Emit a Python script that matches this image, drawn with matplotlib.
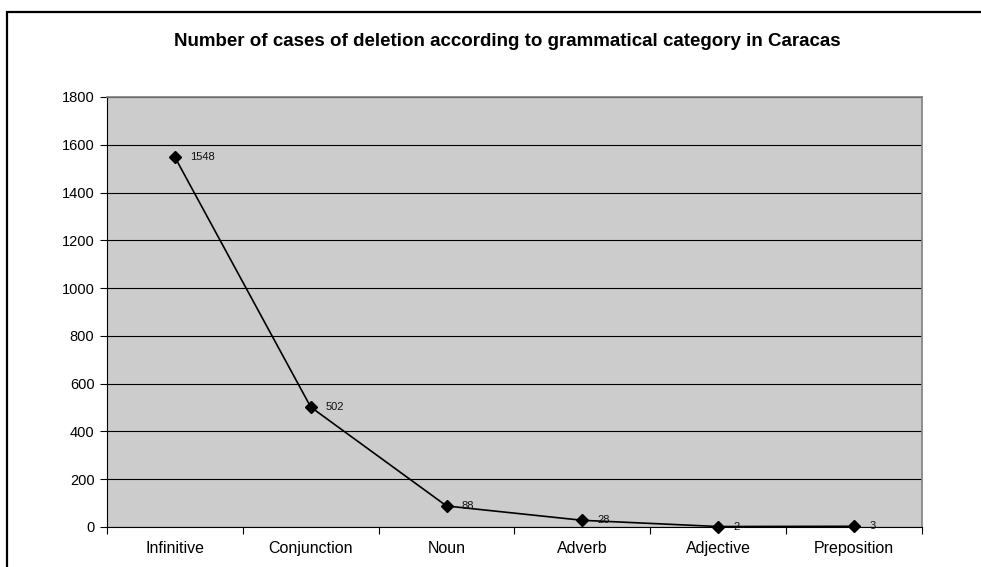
import matplotlib.pyplot as plt
from matplotlib.patches import Rectangle

# data
categories = ['Infinitive', 'Conjunction', 'Noun', 'Adverb', 'Adjective', 'Preposition']
cases = [1548, 502, 88, 28, 2, 3]
y_ticks = [0, 200, 400, 600, 800, 1000, 1200, 1400, 1600, 1800]

plt.rcParams['font.family'] = ['Liberation Sans', 'DejaVu Sans']

W, H = 981, 567
fig = plt.figure(figsize=(W / 100, H / 100), dpi=100)
ax = fig.add_axes([107 / W, 1 - 527 / H, (922 - 107) / W, (527 - 97) / H])
ax.set_facecolor('#CCCCCC')

xs = list(range(len(categories)))
ax.plot(xs, cases, color='black', lw=1.2, marker='D', ms=6.5,
        markerfacecolor='black', markeredgecolor='black', zorder=3, clip_on=False)
for x, v in zip(xs, cases):
    ax.annotate(str(v), (x, v), xytext=(11, 0), textcoords='offset points',
                fontsize=8, va='center', ha='left', color='#111111')

ax.set_xlim(-0.5, len(categories) - 0.5)
ax.set_ylim(0, 1800)
ax.set_yticks(y_ticks)
ax.yaxis.grid(True, color='black', lw=0.8)
ax.set_axisbelow(True)

ax.set_xticks(xs)
ax.set_xticklabels(categories, fontsize=11.5)
ax.set_xticks([i - 0.5 for i in range(len(categories) + 1)], minor=True)
ax.tick_params(axis='x', which='major', length=0, pad=10)
ax.tick_params(axis='x', which='minor', length=5, width=0.8, color='black')
ax.tick_params(axis='y', length=5, width=0.8, labelsize=10.5, pad=4)

ax.spines['left'].set_color('black')
ax.spines['bottom'].set_color('black')
for s in ('top', 'right'):
    ax.spines[s].set_color('#808080')
    ax.spines[s].set_linewidth(1.2)

fig.text(507 / W, 1 - 41 / H,
         'Number of cases of deletion according to grammatical category in Caracas',
         ha='center', va='center', fontsize=13.5, fontweight='bold')

# outer chart border (right and bottom edges fall outside the image)
fig.patches.append(Rectangle((7 / W, -0.05), 1.1, 1 - 12 / H + 0.05,
                             transform=fig.transFigure, fill=False,
                             edgecolor='black', lw=1.6))

fig.savefig('out.png', dpi=100)
